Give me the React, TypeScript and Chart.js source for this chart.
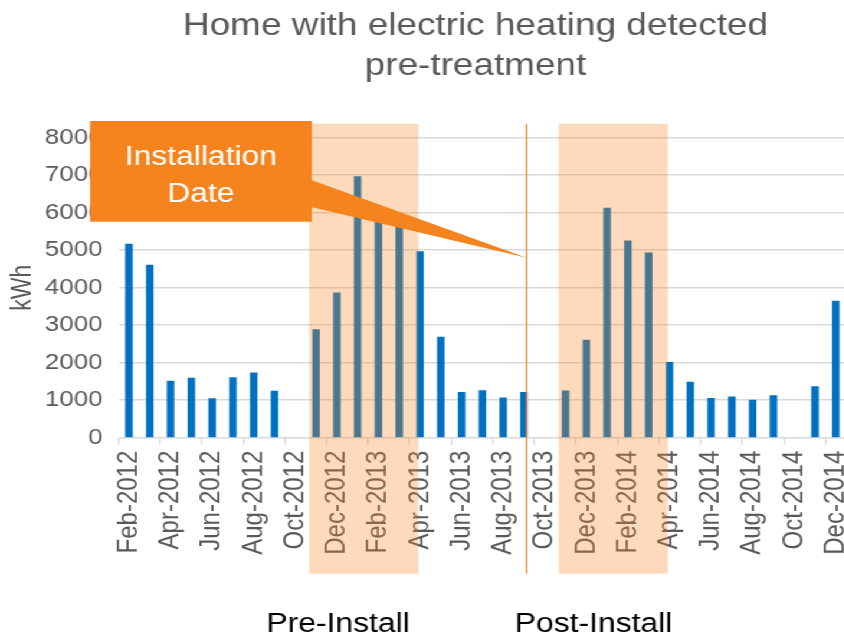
import React, { useEffect, useRef } from 'react';
import { Chart, registerables } from 'chart.js';

Chart.register(...registerables);

// ---------------- data ----------------
const months = [
  'Feb-2012', 'Mar-2012', 'Apr-2012', 'May-2012', 'Jun-2012', 'Jul-2012', 'Aug-2012', 'Sep-2012', 'Oct-2012', 'Nov-2012', 'Dec-2012',
  'Jan-2013', 'Feb-2013', 'Mar-2013', 'Apr-2013', 'May-2013', 'Jun-2013', 'Jul-2013', 'Aug-2013', 'Sep-2013', 'Oct-2013', 'Nov-2013', 'Dec-2013',
  'Jan-2014', 'Feb-2014', 'Mar-2014', 'Apr-2014', 'May-2014', 'Jun-2014', 'Jul-2014', 'Aug-2014', 'Sep-2014', 'Oct-2014', 'Nov-2014', 'Dec-2014',
];

const kwh: (number | null)[] = [
  5160, 4600, 1510, 1590, 1040, 1600, 1730, 1245, null, 2880, 3860,
  6960, 5950, 5750, 4960, 2680, 1210, 1255, 1060, 1210, null, 1250, 2600,
  6120, 5250, 4930, 2010, 1480, 1050, 1090, 1000, 1120, null, 1360, 3645,
];

const yMin = 0;
const yMax = 8000;
const yStep = 1000;

const titleLines = ['Home with electric heating detected', 'pre-treatment'];
const yAxisTitle = 'kWh';
const calloutLines = ['Installation', 'Date'];
const heatingPeriods = [
  { from: 'Nov-2012', to: 'Apr-2013' },
  { from: 'Nov-2013', to: 'Apr-2014' },
];
const installMonth = 'Sep-2013';
const calloutTargetValue = 4800;
const periodLabels = ['Pre-Install', 'Post-Install'];

// ---------------- styles ----------------
const FONT = '"Liberation Sans", Arial, sans-serif';
const STRETCH = 1.18; // horizontal stretch of the reference picture
const W = 729;
const H = 635;
const GRAY_TEXT = '#595959';
const GRID = '#D9D9D9';
const BLUE = '#0070C0';
const ORANGE = 'rgb(245,132,31)';
const SHADE = 'rgba(245,132,31,0.3)';

const overlayPlugin = {
  id: 'overlay',
  afterDraw(chart: any) {
    const { ctx, chartArea } = chart;
    const x = chart.scales.x;
    const y = chart.scales.y;
    const slot = x.getPixelForValue(1) - x.getPixelForValue(0);
    const top = chartArea.top - 14;
    const bottom = chartArea.bottom + 136;
    ctx.save();

    // heating season shading
    ctx.fillStyle = SHADE;
    heatingPeriods.forEach((p) => {
      const l = x.getPixelForValue(months.indexOf(p.from)) - 0.33 * slot;
      const r = x.getPixelForValue(months.indexOf(p.to)) - 0.08 * slot;
      ctx.fillRect(l, top, r - l, bottom - top);
    });

    // install line
    const lineX = x.getPixelForValue(months.indexOf(installMonth)) + 0.13 * slot;
    ctx.strokeStyle = ORANGE;
    ctx.lineWidth = 1.3;
    ctx.beginPath();
    ctx.moveTo(lineX, top);
    ctx.lineTo(lineX, bottom);
    ctx.stroke();

    // callout
    const bx = 76.3, by = 121, bw = 187.9, bh = 100.7;
    ctx.fillStyle = ORANGE;
    ctx.fillRect(bx, by, bw, bh);
    ctx.beginPath();
    ctx.moveTo(bx + bw - 0.5, 180);
    ctx.lineTo(lineX, y.getPixelForValue(calloutTargetValue));
    ctx.lineTo(bx + bw - 0.5, 207);
    ctx.closePath();
    ctx.fill();

    ctx.fillStyle = '#FFFFFF';
    ctx.font = `27px ${FONT}`;
    ctx.textAlign = 'center';
    ctx.textBaseline = 'alphabetic';
    ctx.fillText(calloutLines[0], bx + bw / 2, 165);
    ctx.fillText(calloutLines[1], bx + bw / 2, 201.7);

    // title
    ctx.fillStyle = GRAY_TEXT;
    ctx.font = `31.3px ${FONT}`;
    ctx.fillText(titleLines[0], 403, 35);
    ctx.fillText(titleLines[1], 403, 75);

    // period labels
    ctx.fillStyle = '#000000';
    ctx.font = `27px ${FONT}`;
    ctx.fillText(periodLabels[0], 286.4, 632);
    ctx.fillText(periodLabels[1], 503, 632);

    ctx.restore();
  },
};

export default function App() {
  const canvasRef = useRef<HTMLCanvasElement | null>(null);

  useEffect(() => {
    const canvas = canvasRef.current;
    if (!canvas) return;
    const chart = new Chart(canvas, {
      type: 'bar',
      data: {
        labels: months,
        datasets: [
          {
            label: 'kWh',
            data: kwh,
            backgroundColor: BLUE,
            borderWidth: 0,
            barThickness: 5.7,
          },
        ],
      },
      options: {
        animation: false,
        responsive: false,
        devicePixelRatio: 1,
        events: [],
        layout: { padding: { top: 137.7, left: 0, right: 11.9, bottom: 67.3 } },
        plugins: {
          legend: { display: false },
          title: { display: false },
          tooltip: { enabled: false },
        },
        scales: {
          x: {
            offset: true,
            grid: {
              offset: true,
              drawOnChartArea: false,
              drawTicks: true,
              tickLength: 7,
              lineWidth: 1.3,
              color: (c: any) => (c.index % 2 === 0 ? GRID : 'rgba(0,0,0,0)'),
            },
            border: { display: false },
            ticks: {
              autoSkip: false,
              minRotation: 90,
              maxRotation: 90,
              padding: 6,
              color: GRAY_TEXT,
              font: { family: FONT, size: 24 },
              callback: (_v: any, i: number) => (i % 2 === 0 ? months[i] : ''),
            },
            afterFit: (s: any) => {
              s.height = 130;
              s.paddingLeft = 0;
              s.paddingRight = 0;
            },
          },
          y: {
            min: yMin,
            max: yMax,
            grid: { color: GRID, lineWidth: 1.5, drawTicks: false },
            border: { display: false },
            ticks: {
              stepSize: yStep,
              padding: 13.5,
              color: GRAY_TEXT,
              font: { family: FONT, size: 22 },
              callback: (v: any) => String(v),
            },
            title: {
              display: true,
              text: yAxisTitle,
              color: GRAY_TEXT,
              font: { family: FONT, size: 23 },
              padding: { top: 6, bottom: 0 },
            },
            afterFit: (s: any) => {
              s.width = 100.5;
            },
          },
        },
      },
      plugins: [overlayPlugin],
    });
    return () => chart.destroy();
  }, []);

  return (
    <div
      style={{
        position: 'fixed',
        left: 0,
        top: 0,
        width: W,
        height: H,
        transform: `scaleX(${STRETCH})`,
        transformOrigin: '0 0',
        background: '#FFFFFF',
      }}
    >
      <canvas ref={canvasRef} width={W} height={H} />
    </div>
  );
}
